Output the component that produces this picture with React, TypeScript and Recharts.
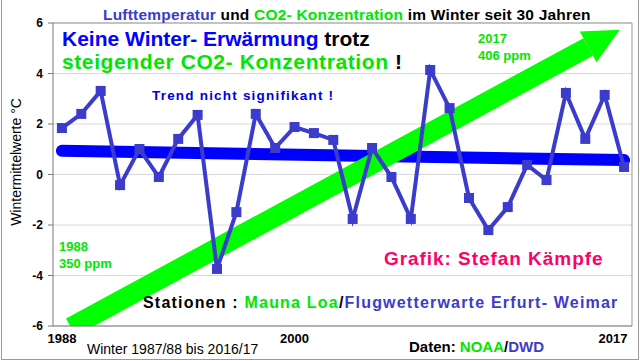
import React from "react";
import {
  CartesianGrid,
  ComposedChart,
  Line,
  ReferenceLine,
  XAxis,
  YAxis,
} from "recharts";

// winter mean temperatures Erfurt-Weimar, winters 1987/88 .. 2016/17
const years = [
  1988, 1989, 1990, 1991, 1992, 1993, 1994, 1995, 1996, 1997, 1998, 1999, 2000,
  2001, 2002, 2003, 2004, 2005, 2006, 2007, 2008, 2009, 2010, 2011, 2012, 2013,
  2014, 2015, 2016, 2017,
];
const winterTemps = [
  1.84, 2.4, 3.31, -0.42, 1.01, -0.1, 1.41, 2.36, -3.74, -1.49, 2.4, 1.05, 1.88,
  1.64, 1.37, -1.76, 1.05, -0.1, -1.76, 4.14, 2.63, -0.93, -2.2, -1.29, 0.38,
  -0.22, 3.23, 1.41, 3.15, 0.3,
];

// linear trend
const trendYears = [1988, 2017];
const trendValues = [0.94, 0.57];

// CO2 arrow (350 ppm -> 406 ppm), drawn on the temperature scale
const arrowYears = [1988.46, 2015.15];
const arrowValues = [-6.05, 5.05];

const xTicks = [1988, 2000, 2017];
const yTicks = [-6, -4, -2, 0, 2, 4, 6];
const xDomain = [1987.54, 2017.41];

const BLUE = "#0000ff";
const LINE_BLUE = "#3b3bcc";
const GREEN = "#00ff00";
const TEXT_GREEN = "#00e600";
const PINK = "#ff0066";
const FONT = "'Liberation Sans', Arial, sans-serif";

const tempData = years.map((year, i) => ({ year, t: winterTemps[i] }));
const trendData = trendYears.map((year, i) => ({ year, t: trendValues[i] }));
const arrowData = arrowYears.map((year, i) => ({ year, t: arrowValues[i] }));

function SquareDot({ cx, cy, index }: any) {
  return <rect key={index} x={cx - 5} y={cy - 5} width={10} height={10} fill={LINE_BLUE} />;
}

// remembers the shaft start so the head can point along it
const shaft: { x: number; y: number }[] = [];
function ArrowHead({ cx, cy, index }: any) {
  shaft[index] = { x: cx, y: cy };
  if (index !== arrowYears.length - 1 || !shaft[0]) return <g key={index} />;
  const a = Math.atan2(cy - shaft[0].y, cx - shaft[0].x);
  const dx = Math.cos(a), dy = Math.sin(a);
  const L = 36, W = 17.5;
  const pts = [
    [cx + dx * L, cy + dy * L],
    [cx - dy * W, cy + dx * W],
    [cx + dy * W, cy - dx * W],
  ];
  return <polygon key={index} points={pts.map((p) => p.join(",")).join(" ")} fill={GREEN} />;
}

function XTick({ x, y, payload }: any) {
  const shift = payload.value === 2017 ? -11 : 0;
  return (
    <text x={x + shift} y={y + 17} textAnchor="middle" fontSize={13} fontWeight="bold" fontFamily={FONT} fill="#000">
      {payload.value}
    </text>
  );
}

export default function App() {
  return (
    <div style={{ position: "absolute", left: 0, top: 0, width: 640, height: 361, background: "#fff" }}>
      <ComposedChart width={640} height={361} margin={{ top: 23, right: 8, bottom: 5, left: 0 }}>
        <CartesianGrid vertical={false} stroke="#d9d9d9" />
        <XAxis
          type="number"
          dataKey="year"
          domain={xDomain}
          ticks={xTicks}
          tick={<XTick />}
          tickLine={false}
          tickSize={0}
          tickMargin={0}
          height={30}
          stroke="#777"
          allowDataOverflow
        />
        <YAxis
          type="number"
          domain={[-6, 6]}
          ticks={yTicks}
          width={53}
          allowDataOverflow
          stroke="#777"
          tickSize={5}
          tickMargin={5}
          tick={{ fontSize: 12, fontWeight: "bold", fill: "#000", fontFamily: FONT }}
        />
        <ReferenceLine y={6} stroke="#999" />
        <ReferenceLine x={xDomain[1]} stroke="#999" />
        <Line
          data={trendData}
          dataKey="t"
          stroke={BLUE}
          strokeWidth={12}
          strokeLinecap="round"
          dot={false}
          isAnimationActive={false}
        />
        <Line
          data={arrowData}
          dataKey="t"
          stroke={GREEN}
          strokeWidth={20}
          dot={ArrowHead}
          isAnimationActive={false}
        />
        <Line
          data={tempData}
          dataKey="t"
          stroke={LINE_BLUE}
          strokeWidth={4}
          dot={SquareDot}
          isAnimationActive={false}
        />
      </ComposedChart>

      <svg
        width={640}
        height={361}
        style={{ position: "absolute", left: 0, top: 0, pointerEvents: "none" }}
        fontFamily={FONT}
        fontWeight="bold"
      >
        <text x={103} y={20} fontSize={15.5} letterSpacing={0.2}>
          <tspan fill={LINE_BLUE}>Lufttemperatur</tspan>
          <tspan fill="#000"> und </tspan>
          <tspan fill={TEXT_GREEN}>CO2- Konzentration</tspan>
          <tspan fill="#000"> im Winter seit 30 Jahren</tspan>
        </text>
        <text x={62} y={46} fontSize={21}>
          <tspan fill={BLUE}>Keine Winter- Erwärmung</tspan>
          <tspan fill="#000"> trotz</tspan>
        </text>
        <text x={62} y={69} fontSize={21} letterSpacing={0.6}>
          <tspan fill={TEXT_GREEN}>steigender CO2- Konzentration</tspan>
          <tspan fill="#000"> !</tspan>
        </text>
        <text x={152} y={100} fontSize={13.5} letterSpacing={1.2} fill="#0000e0">
          Trend nicht signifikant !
        </text>
        <text x={478} y={43} fontSize={13} fill={TEXT_GREEN}>2017</text>
        <text x={478} y={60} fontSize={13} fill={TEXT_GREEN}>406 ppm</text>
        <text x={59} y={251} fontSize={13} fill={TEXT_GREEN}>1988</text>
        <text x={59} y={268} fontSize={13} fill={TEXT_GREEN}>350 ppm</text>
        <text x={384} y={265} fontSize={19} letterSpacing={0.95} fill={PINK}>
          Grafik: Stefan Kämpfe
        </text>
        <text x={143} y={308} fontSize={16} letterSpacing={1.2}>
          <tspan fill="#000">Stationen : </tspan>
          <tspan fill={TEXT_GREEN}>Mauna Loa</tspan>
          <tspan fill="#000">/</tspan>
          <tspan fill={LINE_BLUE}>Flugwetterwarte Erfurt- Weimar</tspan>
        </text>
        <text x={87} y={354} fontSize={14} fontWeight="normal" fill="#000">
          Winter 1987/88 bis 2016/17
        </text>
        <text x={409} y={352} fontSize={15}>
          <tspan fill="#000">Daten: </tspan>
          <tspan fill={TEXT_GREEN}>NOAA</tspan>
          <tspan fill="#000">/</tspan>
          <tspan fill={LINE_BLUE}>DWD</tspan>
        </text>
        <text
          x={16}
          y={162}
          transform="rotate(-90 16 162)"
          textAnchor="middle"
          dominantBaseline="central"
          fontSize={14}
          fontWeight="normal"
          fill="#000"
        >
          Wintermittelwerte °C
        </text>
        <path d="M1.5 0 V359.5 H638.5 V0" fill="none" stroke="#999" />
      </svg>
    </div>
  );
}
